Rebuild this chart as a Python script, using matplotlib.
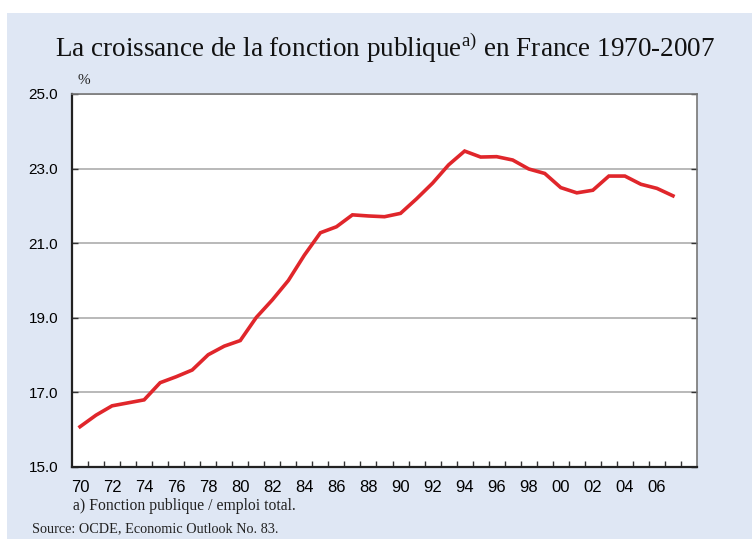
import matplotlib
matplotlib.use("Agg")
import matplotlib.pyplot as plt
from matplotlib.patches import Rectangle
from matplotlib.ticker import FixedLocator

plt.rcParams["mathtext.fontset"] = "custom"
plt.rcParams["mathtext.rm"] = "Liberation Serif"

years = list(range(1970, 2008))
values = [16.08, 16.39, 16.64, 16.72, 16.80, 17.26, 17.42, 17.60, 18.01, 18.24,
          18.39, 19.01, 19.48, 20.00, 20.68, 21.28, 21.44, 21.76, 21.73, 21.71,
          21.80, 22.19, 22.61, 23.10, 23.47, 23.31, 23.32, 23.23, 22.99, 22.87,
          22.49, 22.35, 22.42, 22.80, 22.80, 22.58, 22.47, 22.27]
ytick_vals = [15.0, 17.0, 19.0, 21.0, 23.0, 25.0]
xtick_years = list(range(1970, 2008, 2))
xtick_labels = [f"{y % 100:02d}" for y in xtick_years]

W, H = 752, 539
fig = plt.figure(figsize=(W / 100, H / 100), dpi=100, facecolor="white")
bg = "#dfe7f4"
fig.patches.append(Rectangle((7 / W, 0), 1 - 7 / W, 1 - 13 / H, transform=fig.transFigure,
                             facecolor=bg, edgecolor="none", zorder=-10))

left, right, top, bottom = 72, 697, 94, 467
ax = fig.add_axes([left / W, 1 - bottom / H, (right - left) / W, (bottom - top) / H])
ax.set_facecolor("white")

ax.plot(years, values, color="#e0262b", lw=2.6, solid_joinstyle="miter", zorder=3)

ax.set_xlim(1969.5, 2008.5)
ax.set_ylim(15, 25)

ax.set_yticks(ytick_vals)
ax.set_yticklabels([f"{v:.1f}" for v in ytick_vals], fontfamily="Liberation Sans", fontsize=11)
ax.yaxis.grid(True, color="#a6a6a6", lw=1.1, zorder=1)
ax.tick_params(axis="y", direction="in", length=4, width=1, color="#333333",
               left=True, right=True, pad=10)

ax.set_xticks(xtick_years)
ax.set_xticklabels(xtick_labels, fontfamily="Liberation Sans", fontsize=12)
ax.tick_params(axis="x", which="major", length=0, pad=9)
ax.xaxis.set_minor_locator(FixedLocator([y + 0.5 for y in range(1970, 2008)]))
ax.tick_params(axis="x", which="minor", direction="in", length=4, width=1, color="#333333")

for s in ["left", "bottom"]:
    ax.spines[s].set_color("#222222")
    ax.spines[s].set_linewidth(1.6)
for s in ["top", "right"]:
    ax.spines[s].set_color("#777777")
    ax.spines[s].set_linewidth(1.2)

fig.text(385 / W, 1 - 48 / H, r"La croissance de la fonction publique$^{\mathrm{a)}}$ en France 1970-2007",
         ha="center", va="center", fontfamily="Liberation Serif", fontsize=19.5, color="#111111")
fig.text(78 / W, 1 - 80 / H, "%", ha="left", va="center", fontfamily="Liberation Serif",
         fontsize=11, color="#222222")
fig.text(73 / W, 1 - 506 / H, "a) Fonction publique / emploi total.", ha="left", va="center",
         fontfamily="Liberation Serif", fontsize=11.3, color="#222222")
fig.text(32 / W, 1 - 529 / H, "Source: OCDE, Economic Outlook No. 83.", ha="left", va="center",
         fontfamily="Liberation Serif", fontsize=10.3, color="#222222")

fig.savefig("out.png", dpi=100, facecolor="white")
